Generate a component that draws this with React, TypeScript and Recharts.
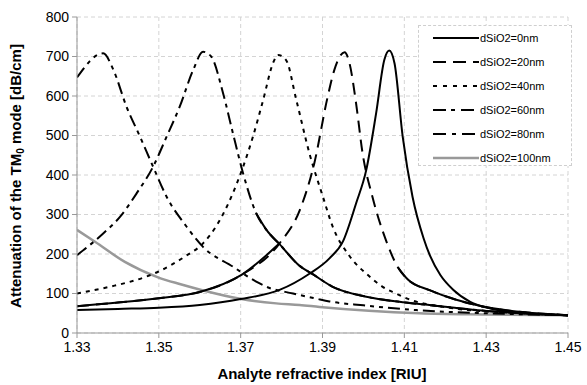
import React from 'react';
import { LineChart, Line, XAxis, YAxis, CartesianGrid, Label } from 'recharts';

// axis ticks
const xTicks = [1.33, 1.35, 1.37, 1.39, 1.41, 1.43, 1.45];
const yTicks = [0, 100, 200, 300, 400, 500, 600, 700, 800];

// dSiO2 = 0nm
const ri0 = [1.33, 1.34, 1.35, 1.36, 1.37, 1.3795, 1.3868, 1.3917, 1.395, 1.3982, 1.4007, 1.4031, 1.4051, 1.4063, 1.4076, 1.4096, 1.412, 1.4147, 1.4163, 1.4188, 1.422, 1.4261, 1.431, 1.44, 1.45];
const att0 = [58, 61, 64, 71, 86, 109, 150, 189, 232, 328, 413, 556, 691, 715, 683, 497, 345, 240, 195, 147, 109, 79, 62, 50, 45];

// dSiO2 = 20nm
const ri20 = [1.33, 1.34, 1.35, 1.3604, 1.3702, 1.3795, 1.3844, 1.388, 1.3912, 1.3929, 1.3954, 1.3966, 1.3982, 1.3998, 1.4022, 1.4055, 1.4085, 1.411, 1.416, 1.4227, 1.4292, 1.44, 1.45];
const att20 = [68, 77, 88, 105, 147, 227, 310, 430, 595, 666, 711, 683, 582, 455, 345, 235, 165, 134, 109, 84, 67, 52, 45];

// dSiO2 = 40nm
const ri40 = [1.33, 1.338, 1.347, 1.3498, 1.3563, 1.3608, 1.3637, 1.3681, 1.3706, 1.373, 1.3755, 1.3779, 1.3791, 1.3811, 1.3836, 1.3868, 1.3901, 1.3925, 1.3966, 1.4015, 1.4047, 1.408, 1.41, 1.421, 1.435, 1.45];
const att40 = [100, 117, 143, 155, 193, 227, 265, 354, 421, 497, 590, 683, 704, 691, 590, 455, 345, 269, 195, 143, 117, 100, 90, 64, 52, 45];

// dSiO2 = 60nm
const ri60 = [1.33, 1.3364, 1.3405, 1.3446, 1.3486, 1.3519, 1.3551, 1.3584, 1.3608, 1.3628, 1.3657, 1.3681, 1.3706, 1.3738, 1.3763, 1.3795, 1.3844, 1.3876, 1.3925, 1.4007, 1.4088, 1.415, 1.43, 1.45];
const att60 = [197, 252, 294, 354, 421, 497, 573, 666, 712, 700, 607, 506, 404, 303, 261, 225, 170, 149, 117, 92, 79, 72, 56, 45];

// dSiO2 = 80nm
const ri80 = [1.33, 1.3364, 1.3389, 1.3421, 1.3454, 1.3486, 1.3519, 1.3568, 1.3608, 1.3681, 1.3738, 1.3763, 1.3828, 1.3885, 1.3917, 1.4, 1.4129, 1.43, 1.45];
const att80 = [647, 708, 666, 573, 497, 421, 345, 269, 218, 168, 130, 117, 100, 87, 80, 70, 58, 50, 45];

// dSiO2 = 100nm
const ri100 = [1.33, 1.3344, 1.3417, 1.3498, 1.3551, 1.3604, 1.3702, 1.3787, 1.3844, 1.3893, 1.4137, 1.43, 1.45];
const att100 = [261, 231, 180, 141, 124, 109, 86, 75, 71, 66, 50, 47, 45];

// Excel restarts the dash on every short segment, so the flat tails look solid
const solid20Below = 1.3795;
const solid20Above = 1.4085;
const solid60Above = 1.3738;

const pts = (xs: number[], ys: number[]) => xs.map((x, i) => ({ x, y: ys[i] }));

const series = [
  { name: 'dSiO2=0nm', data: pts(ri0, att0), color: '#000', width: 2, dash: undefined as string | undefined },
  { name: 'dSiO2=20nm', data: pts(ri20, att20), color: '#000', width: 2, dash: '12 7' },
  { name: 'dSiO2=40nm', data: pts(ri40, att40), color: '#000', width: 2, dash: '4 5' },
  { name: 'dSiO2=60nm', data: pts(ri60, att60), color: '#000', width: 2, dash: '12 5 4 5' },
  { name: 'dSiO2=80nm', data: pts(ri80, att80), color: '#000', width: 2, dash: '12 5 4 5 4 5' },
  { name: 'dSiO2=100nm', data: pts(ri100, att100), color: '#999', width: 2.5, dash: undefined as string | undefined },
];

const legendDash = [undefined, '13 7', '4 6', '13 5 4 6', '13 6 4 6', undefined];

const font = '"Liberation Sans", Arial, sans-serif';

const YTitle = () => (
  <text transform="translate(21,176) rotate(-90)" textAnchor="middle" fontFamily={font} fontWeight="bold" fontSize={15} fill="#000">
    Attenuation of the TM<tspan fontSize={10} dy={3}>0</tspan><tspan dy={-3}> mode [dB/cm]</tspan>
  </text>
);

const XTitle = () => (
  <text x={322} y={379} textAnchor="middle" fontFamily={font} fontWeight="bold" fontSize={15} fill="#000">
    Analyte refractive index [RIU]
  </text>
);

const LegendBox = () => (
  <div
    style={{
      position: 'absolute',
      left: 418,
      top: 25,
      width: 154,
      height: 141,
      border: '1px dashed #cfcfcf',
      background: '#fff',
      boxSizing: 'border-box',
    }}
  >
    {series.map((s, i) => (
      <div key={s.name} style={{ position: 'absolute', left: 14, top: 2 + i * 23.9, height: 20, display: 'flex', alignItems: 'center' }}>
        <svg width={46} height={6}>
          <line x1={0} y1={3} x2={46} y2={3} stroke={s.color} strokeWidth={s.width} strokeDasharray={legendDash[i]} />
        </svg>
        <span style={{ fontFamily: font, fontSize: 11, marginLeft: 1, color: '#000' }}>{s.name}</span>
      </div>
    ))}
  </div>
);

const seg = (key: string, data: { x: number; y: number }[], dash?: string) => (
  <Line key={key} data={data} dataKey="y" type="monotone" stroke="#000" strokeWidth={2} strokeDasharray={dash} dot={false} isAnimationActive={false} />
);

export default function App() {
  const s20 = series[1];
  const s60 = series[3];
  return (
    <div style={{ position: 'absolute', left: 0, top: 0, width: 587, height: 385, background: '#fff' }}>
      <LineChart width={587} height={385} margin={{ top: 17, right: 19, bottom: 0, left: 0 }}>
        <CartesianGrid stroke="#d4d4d4" strokeDasharray="4 3" />
        <XAxis
          dataKey="x"
          type="number"
          domain={[1.33, 1.45]}
          ticks={xTicks}
          allowDataOverflow
          height={52}
          tickSize={5}
          tickMargin={4}
          stroke="#999"
          tick={{ fill: '#000', fontSize: 14, fontFamily: font }}
          tickFormatter={(v: number) => v.toFixed(2)}
        >
          <Label content={<XTitle />} />
        </XAxis>
        <YAxis
          dataKey="y"
          type="number"
          domain={[0, 800]}
          ticks={yTicks}
          width={77}
          tickSize={5}
          tickMargin={3}
          stroke="#999"
          tick={{ fill: '#000', fontSize: 14, fontFamily: font }}
        >
          <Label content={<YTitle />} />
        </YAxis>
        <Line data={series[5].data} dataKey="y" type="monotone" stroke="#999" strokeWidth={2.5} dot={false} isAnimationActive={false} />
        {/* whole series dashed, flat tails overdrawn solid */}
        {seg('20', s20.data, s20.dash)}
        {seg('20a', s20.data.filter(p => p.x <= solid20Below))}
        {seg('20c', s20.data.filter(p => p.x >= solid20Above))}
        {seg('60', s60.data, s60.dash)}
        {seg('60b', s60.data.filter(p => p.x >= solid60Above))}
        {seg('80', series[4].data, series[4].dash)}
        {seg('40', series[2].data, series[2].dash)}
        {seg('0', series[0].data)}
      </LineChart>
      <LegendBox />
    </div>
  );
}
